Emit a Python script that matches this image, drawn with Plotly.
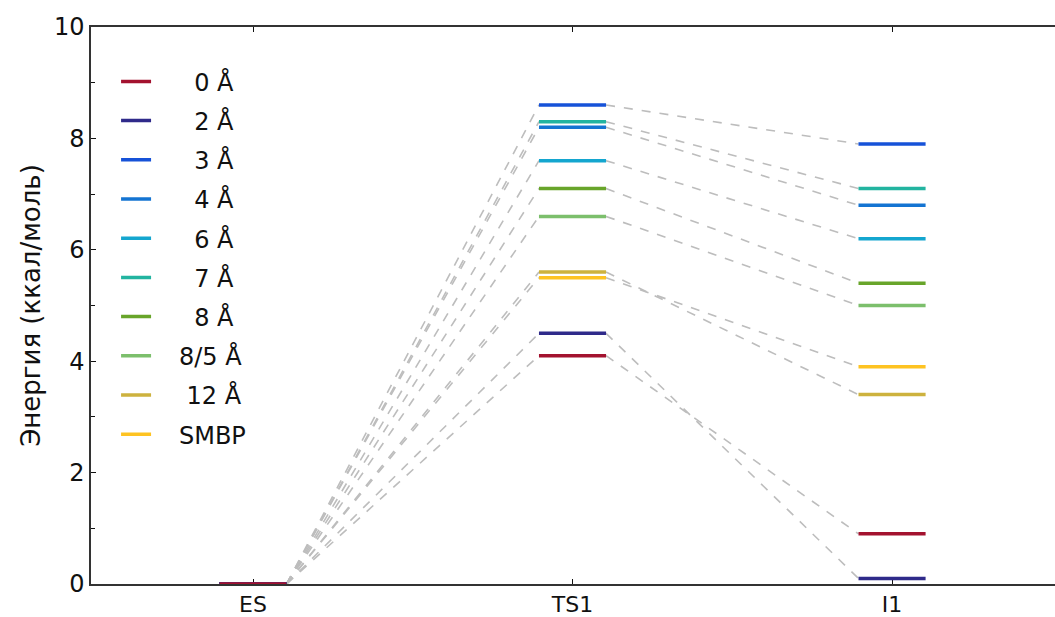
import plotly.graph_objects as go

stages = ["ES", "TS1", "I1"]
series = ["0 Å", "2 Å", "3 Å", "4 Å", "6 Å", "7 Å", "8 Å", "8/5 Å", "12 Å", "SMBP"]
pad = "\u00a0\u00a0\u00a0"
legend_labels = [pad + "\u00a0\u00a00 Å", pad + "\u00a0\u00a02 Å", pad + "\u00a0\u00a03 Å",
                 pad + "\u00a0\u00a04 Å", pad + "\u00a0\u00a06 Å", pad + "\u00a0\u00a07 Å",
                 pad + "\u00a0\u00a08 Å", pad + "8/5 Å", pad + "\u00a012 Å", pad + "SMBP"]
es_values = [0, 0, 0, 0, 0, 0, 0, 0, 0, 0]
ts1_values = [4.1, 4.5, 8.6, 8.2, 7.6, 8.3, 7.1, 6.6, 5.6, 5.5]
i1_values = [0.9, 0.1, 7.9, 6.8, 6.2, 7.1, 5.4, 5.0, 3.4, 3.9]
colors = ["#a3122f", "#2f2a8a", "#1652d8", "#1474d2", "#14a6cf", "#22b4a0",
          "#68a52a", "#7cbf6c", "#cdb23e", "#fec322"]

hw = 0.105
fig = go.Figure()

# connectors
for i in range(len(series)):
    vals = [es_values[i], ts1_values[i], i1_values[i]]
    xs, ys = [], []
    for k in range(len(stages) - 1):
        xs += [k + hw, k + 1 - hw, None]
        ys += [vals[k], vals[k + 1], None]
    fig.add_trace(go.Scatter(x=xs, y=ys, mode="lines", showlegend=False, hoverinfo="skip",
                             line=dict(color="#bdbdbd", width=1.6, dash="dash")))

# levels (reverse so first series is on top)
for i in reversed(range(len(series))):
    vals = [es_values[i], ts1_values[i], i1_values[i]]
    xs, ys = [], []
    for k in range(len(stages)):
        xs += [k - hw, k + hw, None]
        ys += [vals[k], vals[k], None]
    fig.add_trace(go.Scatter(x=xs, y=ys, mode="lines", name=legend_labels[i], legendrank=i + 1,
                             legendgroup="g%d" % i,
                             line=dict(color=colors[i], width=3.5)))

fig.update_layout(
    width=1055, height=617,
    margin=dict(l=91, r=0, t=27, b=33),
    plot_bgcolor="white", paper_bgcolor="white",
    font=dict(family="DejaVu Sans", size=22, color="#111111"),
    legend=dict(x=0.026, y=0.942, xanchor="left", yanchor="top", bgcolor="rgba(0,0,0,0)",
                font=dict(size=24), tracegroupgap=5),
    xaxis=dict(range=[-0.507, 2.51], tickmode="array", tickvals=[0, 1, 2], ticktext=stages,
               ticks="inside", ticklen=5, tickcolor="#111111", showline=True, linecolor="#333333",
               linewidth=1.5, mirror="ticks", showgrid=False, zeroline=False, layer="below traces",
               tickfont=dict(size=22)),
    yaxis=dict(range=[0, 10], tickvals=[0, 2, 4, 6, 8, 10], ticks="inside", ticklen=5,
               tickcolor="#111111", showline=True, linecolor="#333333", linewidth=1.5,
               showgrid=False, zeroline=False, tickfont=dict(size=24), layer="below traces",
               minor=dict(tickvals=[1, 3, 5, 7, 9], ticks="inside", ticklen=4, tickcolor="#111111"),
               title=dict(text="Энергия (ккал/моль)", font=dict(size=26), standoff=6)),
)

fig.write_html("out.html")
